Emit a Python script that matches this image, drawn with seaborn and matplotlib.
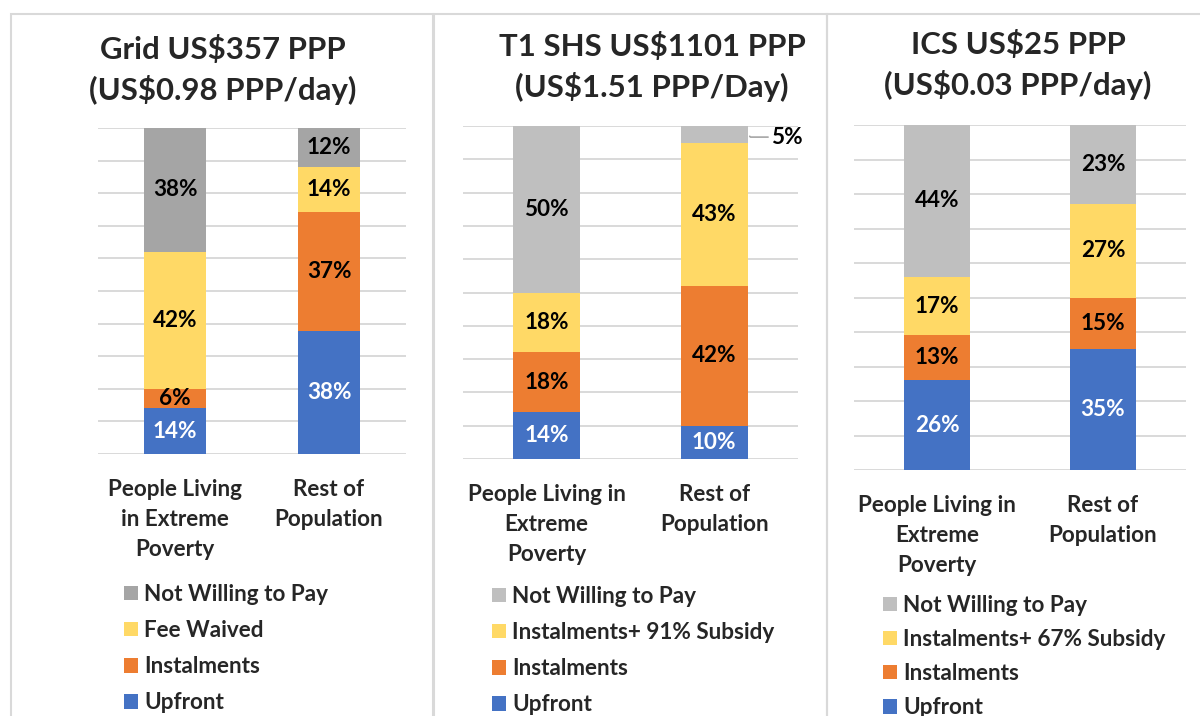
import matplotlib
matplotlib.use("Agg")
import matplotlib.pyplot as plt
from matplotlib.patches import Rectangle
import seaborn as sns
import numpy as np

# categories (x axis) for each panel
cats_grid = ["People Living\nin Extreme\nPoverty", "Rest of\nPopulation"]
cats_wide = ["People Living in\nExtreme\nPoverty", "Rest of\nPopulation"]

titles = ["Grid US$357 PPP\n(US$0.98 PPP/day)",
          "T1 SHS US$1101 PPP\n(US$1.51 PPP/Day)",
          "ICS US$25 PPP\n(US$0.03 PPP/day)"]

# series, bottom to top
series_grid = ["Upfront", "Instalments", "Fee Waived", "Not Willing to Pay"]
series_shs = ["Upfront", "Instalments", "Instalments+ 91% Subsidy", "Not Willing to Pay"]
series_ics = ["Upfront", "Instalments", "Instalments+ 67% Subsidy", "Not Willing to Pay"]

# percentages, bottom to top (poverty bar / rest bar)
grid_poor = [14, 6, 42, 38]
grid_rest = [38, 37, 14, 12]
shs_poor = [14, 18, 18, 50]
shs_rest = [10, 42, 43, 5]
ics_poor = [26, 13, 17, 44]
ics_rest = [35, 15, 27, 23]

BLUE, ORANGE, YELLOW = "#4472C4", "#ED7D31", "#FFD966"
colors_grid = [BLUE, ORANGE, YELLOW, "#A5A5A5"]
colors_other = [BLUE, ORANGE, YELLOW, "#BFBFBF"]

sns.set_style("white")
plt.rcParams["font.family"] = ["Lato", "DejaVu Sans"]
plt.rcParams["font.weight"] = "bold"

W, H = 1200, 716
FS = 16.2
fig = plt.figure(figsize=(W / 100, H / 100), dpi=100)


def px_rect(x0, top, x1, bottom):
    return [x0 / W, 1 - bottom / H, (x1 - x0) / W, (bottom - top) / H]


panels = [
    dict(rect=px_rect(98, 128, 406, 454), cats=cats_grid, series=series_grid,
         poor=grid_poor, rest=grid_rest, colors=colors_grid, title=titles[0],
         title_xy=(223, 70), legend_xy=(124, 584), spacing=0.67, frame=(11, 14, 433)),
    dict(rect=px_rect(463, 126, 798, 459), cats=cats_wide, series=series_shs,
         poor=shs_poor, rest=shs_rest, colors=colors_other, title=titles[1],
         title_xy=(652, 67), legend_xy=(492, 586), spacing=0.67, frame=(434, 14, 827)),
    dict(rect=px_rect(854, 125, 1186, 470), cats=cats_wide, series=series_ics,
         poor=ics_poor, rest=ics_rest, colors=colors_other, title=titles[2],
         title_xy=(1018, 65), legend_xy=(883, 595), spacing=0.58, frame=(827, 14, 1260)),
]

for p in panels:
    fx0, ftop, fx1 = p["frame"]
    fig.add_artist(Rectangle((fx0 / W, -0.1), (fx1 - fx0) / W, 1.1 - ftop / H,
                             transform=fig.transFigure, fill=False,
                             edgecolor="#D9D9D9", lw=1.5))

    ax = fig.add_axes(p["rect"])
    vals = np.array([p["poor"], p["rest"]], dtype=float)
    shares = vals / vals.sum(axis=1, keepdims=True) * 100
    bottoms = np.zeros(2)
    for i, name in enumerate(p["series"]):
        sns.barplot(x=p["cats"], y=shares[:, i], order=p["cats"], color=p["colors"][i],
                    width=0.4, saturation=1, errorbar=None, bottom=bottoms,
                    label=name, linewidth=0, ax=ax)
        bottoms = bottoms + shares[:, i]

    # data labels
    for i, cont in enumerate(ax.containers):
        labels = [f"{p['poor'][i]}%", f"{p['rest'][i]}%"]
        if p["series"] is series_shs and i == 3:
            labels[1] = ""
            top = shares[1, :3].sum() + shares[1, 3] / 2
            ax.annotate(f"{p['rest'][i]}%", xy=(1.2, top), xytext=(17, -2),
                        textcoords="offset points", va="center", ha="left",
                        fontsize=FS, fontweight="bold", color="black",
                        arrowprops=dict(arrowstyle="-", color="#A6A6A6", lw=1.2,
                                        shrinkA=0, shrinkB=2,
                                        connectionstyle="angle,angleA=0,angleB=-45,rad=0"))
        ax.bar_label(cont, labels=labels, label_type="center", fontsize=FS,
                     fontweight="bold", color="white" if i == 0 else "black")

    ax.set_ylim(0, 100)
    ax.set_yticks(np.arange(0, 101, 10))
    ax.set_yticklabels([])
    ax.yaxis.grid(True, color="#D9D9D9", lw=1.4)
    ax.set_axisbelow(True)
    for s in ax.spines.values():
        s.set_visible(False)
    ax.tick_params(axis="both", length=0)
    ax.tick_params(axis="x", pad=18, labelsize=FS)
    for t in ax.get_xticklabels():
        t.set_fontweight("bold")
        t.set_linespacing(1.52)
        t.set_ha("center")

    handles, labs = ax.get_legend_handles_labels()
    ax.legend(handles[::-1], labs[::-1], loc="upper left",
              bbox_to_anchor=(p["legend_xy"][0] / W, 1 - p["legend_xy"][1] / H),
              bbox_transform=fig.transFigure, frameon=False,
              handlelength=0.62, handleheight=0.62, handletextpad=0.28,
              labelspacing=p["spacing"], borderpad=0, borderaxespad=0,
              prop=dict(weight="bold", size=FS))

    fig.text(p["title_xy"][0] / W, 1 - p["title_xy"][1] / H, p["title"],
             ha="center", va="center", fontsize=22.4, fontweight="bold",
             linespacing=1.45)

fig.savefig("out.png", dpi=100)
